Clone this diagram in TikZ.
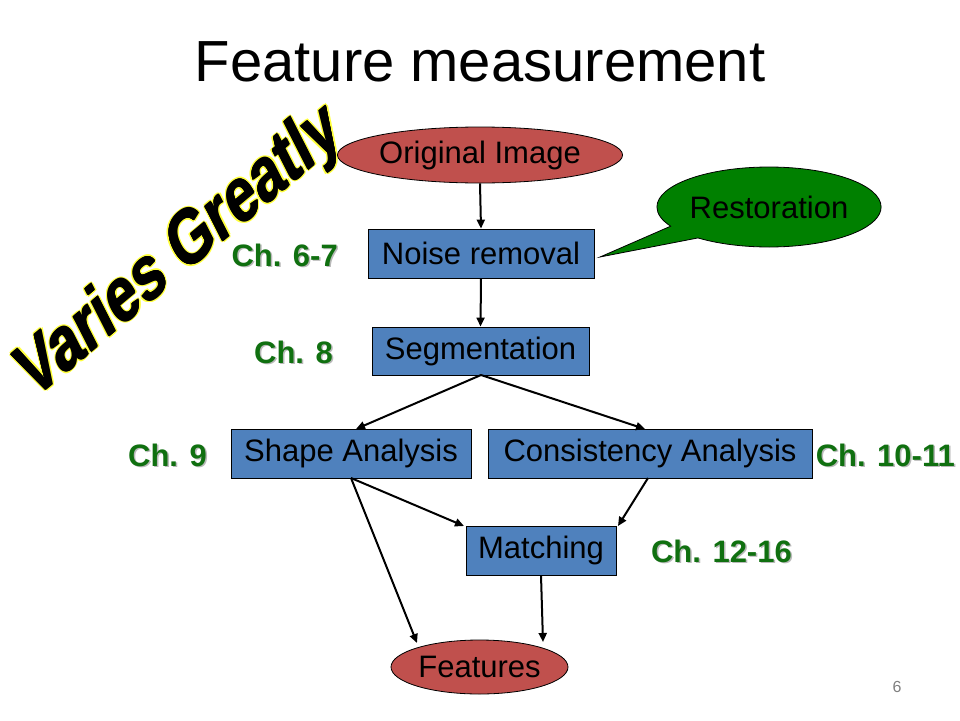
\documentclass[tikz,border=0pt]{standalone}
\usepackage{fontspec}
\setmainfont{Liberation Sans}
\usetikzlibrary{shapes.geometric,shapes.callouts,arrows.meta}
\definecolor{boxblue}{RGB}{79,129,189}
\definecolor{ovalred}{RGB}{192,80,77}
\definecolor{calgreen}{RGB}{0,128,0}
\definecolor{chgreen}{RGB}{16,112,16}
\definecolor{shadowgray}{RGB}{185,185,185}
\definecolor{vyellow}{RGB}{255,255,60}
\tikzset{
  box/.style={draw=black, line width=0.8pt, fill=boxblue, rectangle, inner sep=0pt,
    font=\fontsize{31}{31}\selectfont, text=black},
  oval/.style={draw=black, line width=0.8pt, fill=ovalred, ellipse, inner sep=0pt,
    font=\fontsize{31}{31}\selectfont, text=black},
  flow/.style={line width=2pt, -{Triangle[length=9pt,width=8pt]}},
  chlabel/.style={font=\bfseries\fontsize{31}{31}\selectfont, text=chgreen, inner sep=0pt},
  chshadow/.style={font=\bfseries\fontsize{31}{31}\selectfont, text=shadowgray, inner sep=0pt},
  vg/.style={font=\bfseries\fontsize{74}{74}\selectfont, inner sep=0pt, anchor=base,
    cm={0.628,0.527,-0.454,0.891,(0,0)}},
}
\begin{document}
\begin{tikzpicture}[x=1pt,y=-1pt]
\useasboundingbox (0,0) rectangle (960,720);
\fill[white] (0,0) rectangle (960,720);

% title
\node[font=\fontsize{58}{58}\selectfont, inner sep=0pt] (title) at (480,62) {Feature measurement};

% Varies Greatly with yellow outline
\foreach \dx/\dy in {1.9/0,-1.9/0,0/1.9,0/-1.9,1.35/1.35,-1.35/1.35,1.35/-1.35,-1.35/-1.35}{
  \node[vg, text=vyellow] at (189+\dx,270+\dy) {Varies Greatly};
}
\foreach \dx/\dy in {0.6/0,-0.6/0,0/0.6,0/-0.6}{
  \node[vg, text=black] at (189+\dx,270+\dy) {Varies Greatly};
}
\node[vg, text=black] (vgtext) at (189,270) {Varies Greatly};

% nodes
\node[oval, minimum width=238pt, minimum height=56pt] (orig) at (480,155) {Original Image};
\node[box, minimum width=226pt, minimum height=49pt] (noise) at (481,253.5) {Noise removal};
\node[box, minimum width=217pt, minimum height=48pt] (seg) at (480.5,351) {Segmentation};
\node[box, minimum width=240pt, minimum height=49pt] (shape) at (351,453.5) {Shape Analysis};
\node[box, minimum width=324pt, minimum height=49pt] (cons) at (650,453.5) {Consistency Analysis};
\node[box, minimum width=150pt, minimum height=49pt] (match) at (541,550.5) {Matching};
\node[oval, minimum width=177pt, minimum height=54pt] (feat) at (479.5,667) {Features};

% callout
\coordinate (tip) at (600,257);
\node[ellipse callout, draw=black, line width=0.8pt, fill=calgreen, inner sep=0pt,
  minimum width=188pt, minimum height=80pt, callout absolute pointer={(tip)},
  callout pointer arc=22, font=\fontsize{31}{31}\selectfont, text=black] (rest) at (769,207) {Restoration};

% chapter labels
\foreach \nm/\x/\y/\t in {c67/338/255/Ch. 6-7, c8/333/352/Ch. 8, c9/207/455/Ch. 9, c1011/955/455/Ch. 10-11, c1216/792/551/Ch. 12-16}{
  \node[chshadow, anchor=east] at (\x+1.5,\y+1.5) {\t};
  \node[chlabel, anchor=east] (\nm) at (\x,\y) {\t};
}

% arrows
\coordinate (segb) at (481,375);
\coordinate (shb) at (351,478);
\draw[flow] (orig.south) -- (noise.north);
\draw[flow] (noise.south) -- (seg.north);
\draw[flow] (segb) -- (356,429);
\draw[flow] (segb) -- (645,429);
\draw[flow] (shb) -- (464,526);
\draw[flow] (shb) -- (417,643);
\draw[flow] (648,478) -- (618,526);
\draw[flow] (match.south) -- (543,642);

% page number
\node[font=\fontsize{16}{16}\selectfont, text=gray, inner sep=0pt] (pg) at (897,687) {6};
\end{tikzpicture}
\end{document}
